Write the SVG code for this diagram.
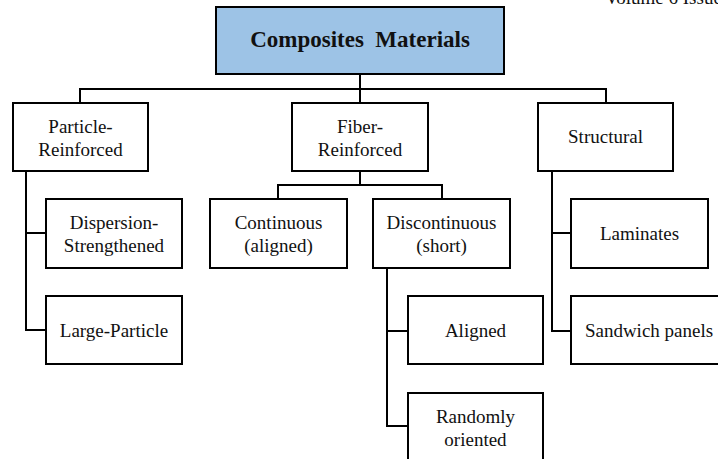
<svg xmlns="http://www.w3.org/2000/svg" width="718" height="459" viewBox="0 0 718 459">
<style>
.box{fill:#fff;stroke:#000;stroke-width:2}
.root{fill:#9DC3E6;stroke:#000;stroke-width:2}
.t{font-family:"Liberation Serif","Times New Roman",serif;font-size:19px;fill:#111;text-anchor:middle}
.title{font-family:"Liberation Serif","Times New Roman",serif;font-size:23px;font-weight:bold;fill:#111;text-anchor:middle}
.conn{fill:none;stroke:#000;stroke-width:2}
</style>
<rect width="718" height="459" fill="#fff"/>
<text x="605" y="4" style="font-family:'Liberation Serif','Times New Roman',serif;font-size:19px;fill:#111">Volume 6 Issue</text>
<g id="connectors" class="conn">
<path d="M360,74 V89 M80,103 V89 H606 V103 M360,89 V103"/>
<path d="M360,171 V185 M278,199 V185 H442 V199"/>
<path d="M26,171 V330 H46 M26,233 H46"/>
<path d="M387,268 V426 H408 M387,331 H408"/>
<path d="M552,171 V331 H571 M552,233 H571"/>
</g>
<g id="composites">
<rect class="root" x="216" y="7" width="288" height="67"/>
<text class="title" x="360" y="47" xml:space="preserve">Composites  Materials</text>
</g>
<g id="particle">
<rect class="box" x="13" y="103" width="135" height="68"/>
<text class="t" x="80.5" y="133">Particle-</text>
<text class="t" x="80.5" y="156">Reinforced</text>
</g>
<g id="fiber">
<rect class="box" x="292" y="103" width="136" height="68"/>
<text class="t" x="360" y="133">Fiber-</text>
<text class="t" x="360" y="156">Reinforced</text>
</g>
<g id="structural">
<rect class="box" x="538" y="103" width="135" height="68"/>
<text class="t" x="605.5" y="143">Structural</text>
</g>
<g id="dispersion">
<rect class="box" x="46" y="199" width="136" height="69"/>
<text class="t" x="114" y="229">Dispersion-</text>
<text class="t" x="114" y="252">Strengthened</text>
</g>
<g id="large-particle">
<rect class="box" x="46" y="296" width="136" height="68"/>
<text class="t" x="114" y="337">Large-Particle</text>
</g>
<g id="continuous">
<rect class="box" x="210" y="199" width="137" height="69"/>
<text class="t" x="278.5" y="229">Continuous</text>
<text class="t" x="278.5" y="252">(aligned)</text>
</g>
<g id="discontinuous">
<rect class="box" x="373" y="199" width="137" height="69"/>
<text class="t" x="441.5" y="229">Discontinuous</text>
<text class="t" x="441.5" y="252">(short)</text>
</g>
<g id="aligned">
<rect class="box" x="408" y="296" width="135" height="68"/>
<text class="t" x="475.5" y="337">Aligned</text>
</g>
<g id="randomly">
<rect class="box" x="408" y="393" width="135" height="69"/>
<text class="t" x="475.5" y="423">Randomly</text>
<text class="t" x="475.5" y="446">oriented</text>
</g>
<g id="laminates">
<rect class="box" x="571" y="199" width="137" height="69"/>
<text class="t" x="639.5" y="240">Laminates</text>
</g>
<g id="sandwich">
<rect class="box" x="571" y="296" width="156" height="68"/>
<text class="t" x="649" y="337">Sandwich panels</text>
</g>
</svg>
